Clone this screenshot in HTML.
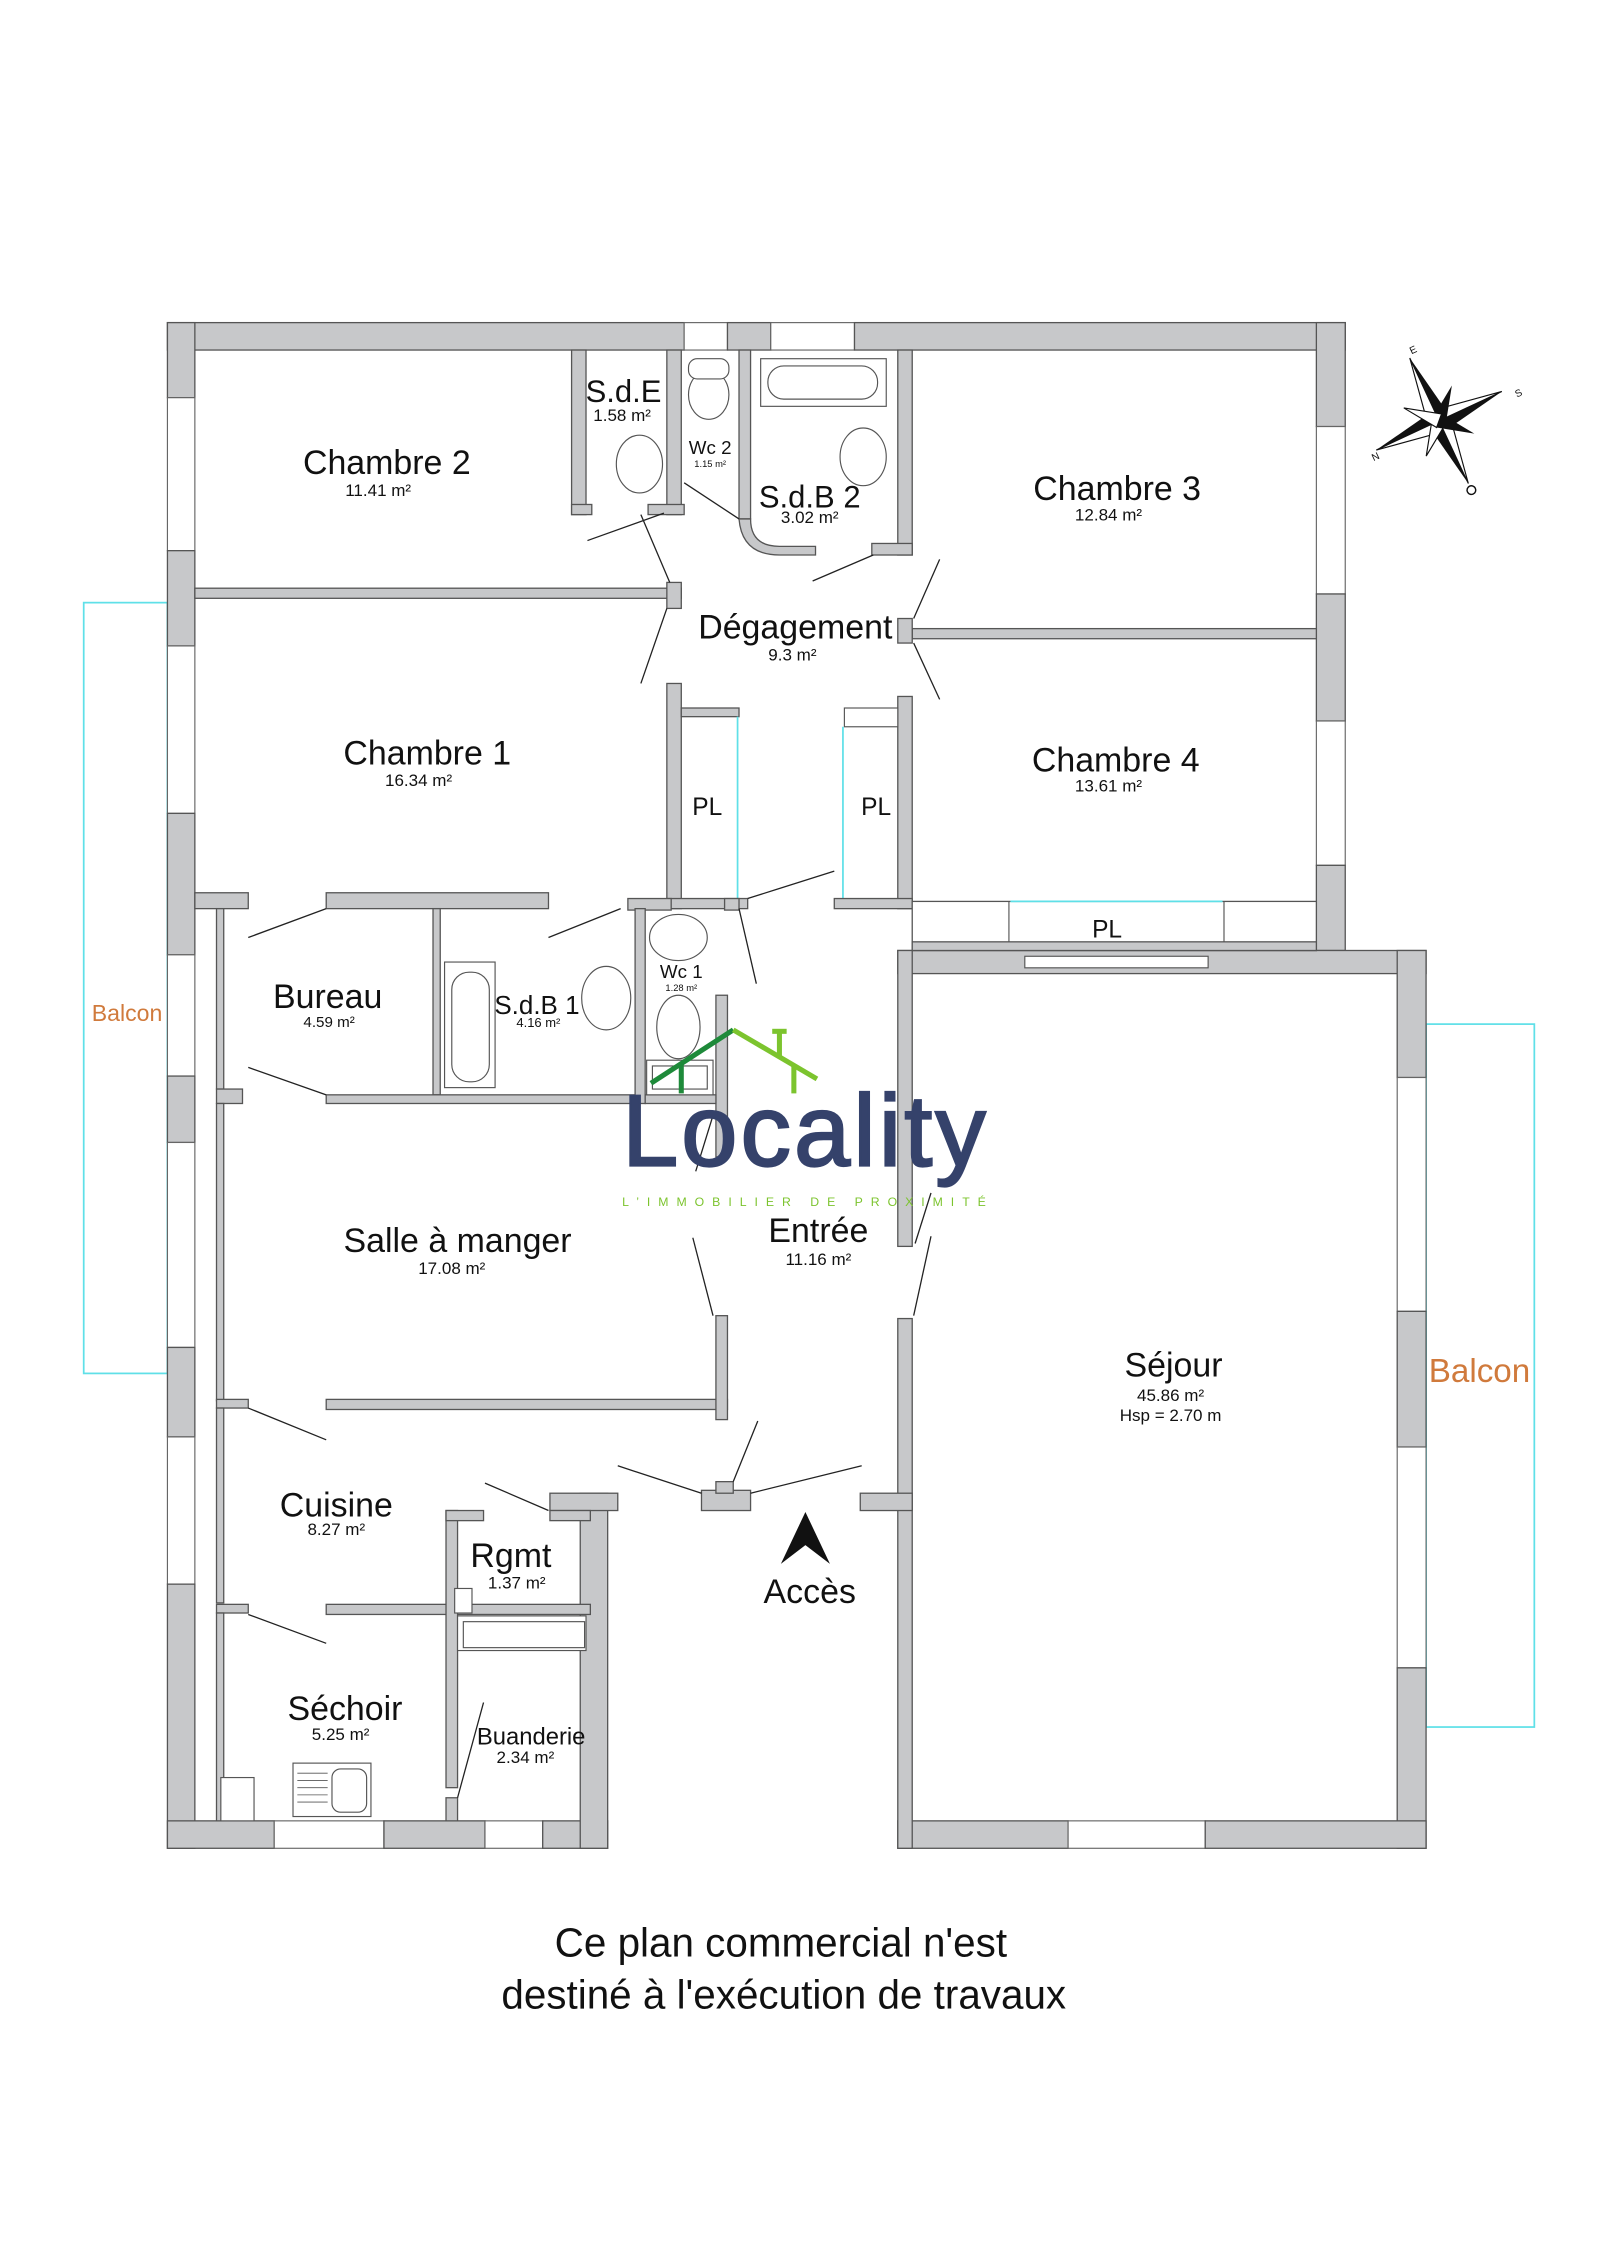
<!DOCTYPE html>
<html><head><meta charset="utf-8"><style>
html,body{margin:0;padding:0;background:#fff}
svg{display:block}
text{font-family:"Liberation Sans",sans-serif;fill:#111}
</style></head><body>
<svg width="1600" height="2264" viewBox="0 0 1108.5 1568.5" xmlns="http://www.w3.org/2000/svg">
<defs><style>
.w{fill:#c7c8ca;stroke:#555;stroke-width:0.9}
.win{fill:#fff;stroke:#666;stroke-width:0.8}
.d{stroke:#222;stroke-width:0.9;fill:none}
.fx{fill:#fff;stroke:#555;stroke-width:0.8}
.t{font-size:23.5px;text-anchor:middle}
.s{font-size:11.8px;text-anchor:middle}
</style></defs>
<g transform="translate(0,1.5)">
<rect x="58" y="416" width="58" height="534" fill="none" stroke="#5fe0e8" stroke-width="1.2"/>
<rect x="988" y="708" width="75" height="487" fill="none" stroke="#5fe0e8" stroke-width="1.2"/>
<text x="88" y="706" style="font-size:16px;fill:#d07a3c" text-anchor="middle">Balcon</text>
<text x="1025" y="956" style="font-size:23px;fill:#d07a3c" text-anchor="middle">Balcon</text>

<rect class="w" x="116" y="222" width="358" height="19"/>
<rect class="win" x="474" y="222" width="30" height="19"/>
<rect class="w" x="504" y="222" width="30" height="19"/>
<rect class="win" x="534" y="222" width="58" height="19"/>
<rect class="w" x="592" y="222" width="340" height="19"/>
<rect class="w" x="116" y="222" width="19" height="52"/>
<rect class="win" x="116" y="274" width="19" height="106"/>
<rect class="w" x="116" y="380" width="19" height="66"/>
<rect class="win" x="116" y="446" width="19" height="116"/>
<rect class="w" x="116" y="562" width="19" height="98"/>
<rect class="win" x="116" y="660" width="19" height="84"/>
<rect class="w" x="116" y="744" width="19" height="46"/>
<rect class="win" x="116" y="790" width="19" height="142"/>
<rect class="w" x="116" y="932" width="19" height="62"/>
<rect class="win" x="116" y="994" width="19" height="102"/>
<rect class="w" x="116" y="1096" width="19" height="183"/>
<rect class="w" x="116" y="1260" width="74" height="19"/>
<rect class="win" x="190" y="1260" width="76" height="19"/>
<rect class="w" x="266" y="1260" width="70" height="19"/>
<rect class="win" x="336" y="1260" width="40" height="19"/>
<rect class="w" x="376" y="1260" width="45" height="19"/>
<rect class="w" x="402" y="1033" width="19" height="246"/>
<rect class="w" x="381" y="1033" width="47" height="12"/>
<rect class="w" x="912" y="222" width="20" height="72"/>
<rect class="win" x="912" y="294" width="20" height="116"/>
<rect class="w" x="912" y="410" width="20" height="88"/>
<rect class="win" x="912" y="498" width="20" height="100"/>
<rect class="w" x="912" y="598" width="20" height="59"/>
<rect class="w" x="622" y="657" width="366" height="16"/>
<rect class="w" x="968" y="657" width="20" height="88"/>
<rect class="win" x="968" y="745" width="20" height="162"/>
<rect class="w" x="968" y="907" width="20" height="94"/>
<rect class="win" x="968" y="1001" width="20" height="153"/>
<rect class="w" x="968" y="1154" width="20" height="125"/>
<rect class="w" x="622" y="1260" width="118" height="19"/>
<rect class="win" x="740" y="1260" width="95" height="19"/>
<rect class="w" x="835" y="1260" width="153" height="19"/>
<rect class="w" x="622" y="657" width="10" height="205"/>
<rect class="w" x="622" y="912" width="10" height="367"/>
<rect class="w" x="596" y="1033" width="36" height="12"/>
<rect class="fx" x="710" y="661" width="127" height="8"/>

<rect class="w" x="135" y="406" width="337" height="7"/>
<rect class="w" x="462" y="402" width="10" height="18"/>
<rect class="w" x="396" y="241" width="10" height="114"/>
<rect class="w" x="396" y="348" width="14" height="7"/>
<rect class="w" x="462" y="241" width="10" height="114"/>
<rect class="w" x="449" y="348" width="25" height="7"/>
<rect class="w" x="512" y="241" width="8" height="117"/>
<path class="w" d="M512 358 Q514 383 540 383 L565 383 L565 377 L540 377 Q520 377 520 358Z"/>
<rect class="w" x="622" y="241" width="10" height="142"/>
<rect class="w" x="604" y="375" width="28" height="8"/>
<rect class="w" x="632" y="434" width="280" height="7"/>
<rect class="w" x="622" y="427" width="10" height="17"/>
<rect class="w" x="462" y="472" width="10" height="156"/>
<rect class="w" x="472" y="489" width="40" height="6"/>
<line x1="511" y1="495" x2="511" y2="621" stroke="#5fe0e8" stroke-width="1.2"/>
<rect class="w" x="622" y="481" width="10" height="147"/>
<rect class="fx" x="585" y="489" width="37" height="13"/>
<line x1="584" y1="502" x2="584" y2="621" stroke="#5fe0e8" stroke-width="1.2"/>
<rect class="w" x="462" y="621" width="56" height="7"/>
<rect class="w" x="578" y="621" width="54" height="7"/>
<rect class="w" x="502" y="621" width="10" height="8"/>
<rect class="w" x="632" y="623" width="280" height="34" style="fill:#fff"/>
<rect class="w" x="632" y="651" width="280" height="6"/>
<line x1="699" y1="623" x2="699" y2="651" stroke="#555" stroke-width="0.8"/>
<line x1="848" y1="623" x2="848" y2="651" stroke="#555" stroke-width="0.8"/>
<line x1="700" y1="623" x2="847" y2="623" stroke="#5fe0e8" stroke-width="1.2"/>
<rect class="w" x="135" y="617" width="37" height="11"/>
<rect class="w" x="226" y="617" width="154" height="11"/>
<rect class="w" x="435" y="621" width="30" height="8"/>
<rect class="w" x="150" y="628" width="5" height="125"/>
<rect class="w" x="150" y="753" width="18" height="10"/>
<rect class="w" x="300" y="628" width="5" height="129"/>
<rect class="w" x="226" y="757" width="214" height="6"/>
<rect class="w" x="440" y="628" width="7" height="135"/>
<rect class="w" x="496" y="688" width="8" height="112"/>
<rect class="w" x="447" y="757" width="49" height="6"/>
<rect class="w" x="150" y="763" width="5" height="206"/>
<rect class="w" x="150" y="968" width="22" height="6"/>
<rect class="w" x="226" y="968" width="278" height="7"/>
<rect class="w" x="496" y="910" width="8" height="72"/>
<rect class="w" x="150" y="974" width="5" height="135"/>
<rect class="w" x="150" y="1110" width="22" height="6"/>
<rect class="w" x="226" y="1110" width="183" height="7"/>
<rect class="w" x="150" y="1116" width="5" height="144"/>
<rect class="w" x="309" y="1045" width="8" height="192"/>
<rect class="w" x="309" y="1045" width="26" height="7"/>
<rect class="w" x="381" y="1045" width="28" height="7"/>
<rect class="w" x="309" y="1244" width="8" height="16"/>
<rect class="fx" x="317" y="1118" width="89" height="24"/>
<rect class="fx" x="321" y="1122" width="84" height="18"/>
<rect class="fx" x="315" y="1099" width="12" height="17"/>
<rect class="w" x="486" y="1031" width="34" height="14"/>
<rect class="w" x="496" y="1025" width="12" height="8"/>

<rect class="fx" x="527" y="247" width="87" height="33"/>
<rect class="fx" x="532" y="252" width="76" height="23" rx="11"/>
<ellipse class="fx" cx="491" cy="272" rx="14" ry="17"/>
<rect class="fx" x="477" y="247" width="28" height="14" rx="6"/>
<ellipse class="fx" cx="443" cy="320" rx="16" ry="20"/>
<ellipse class="fx" cx="598" cy="315" rx="16" ry="20"/>
<rect class="fx" x="308" y="665" width="35" height="87"/>
<rect class="fx" x="313" y="672" width="26" height="76" rx="12"/>
<ellipse class="fx" cx="420" cy="690" rx="17" ry="22"/>
<ellipse class="fx" cx="470" cy="648" rx="20" ry="16"/>
<ellipse class="fx" cx="470" cy="710" rx="15" ry="22"/>
<rect class="fx" x="448" y="733" width="46" height="24"/>
<rect class="fx" x="452" y="737" width="38" height="16"/>
<rect class="fx" x="153" y="1230" width="23" height="30"/>
<rect class="fx" x="203" y="1220" width="54" height="37"/>
<rect class="fx" x="230" y="1224" width="24" height="30" rx="6"/>
<g stroke="#555" stroke-width="0.6"><line x1="206" y1="1227" x2="227" y2="1227"/><line x1="206" y1="1232" x2="227" y2="1232"/><line x1="206" y1="1237" x2="227" y2="1237"/><line x1="206" y1="1242" x2="227" y2="1242"/><line x1="206" y1="1247" x2="227" y2="1247"/></g>

<g class="d">
<line x1="407" y1="373" x2="460" y2="354"/><line x1="444" y1="355" x2="464" y2="402"/>
<line x1="474" y1="333" x2="512" y2="358"/>
<line x1="563" y1="401" x2="605" y2="383"/>
<line x1="444" y1="472" x2="462" y2="420"/>
<line x1="633" y1="427" x2="651" y2="386"/><line x1="633" y1="444" x2="651" y2="483"/>
<line x1="512" y1="628" x2="524" y2="680"/><line x1="518" y1="621" x2="578" y2="602"/>
<line x1="380" y1="648" x2="430" y2="628"/>
<line x1="172" y1="648" x2="226" y2="628"/><line x1="172" y1="738" x2="226" y2="757"/>
<line x1="482" y1="810" x2="495" y2="768"/><line x1="480" y1="856" x2="494" y2="910"/>
<line x1="645" y1="825" x2="634" y2="860"/><line x1="645" y1="855" x2="633" y2="910"/>
<line x1="172" y1="974" x2="226" y2="996"/><line x1="172" y1="1117" x2="226" y2="1137"/>
<line x1="336" y1="1026" x2="380" y2="1045"/>
<line x1="428" y1="1014" x2="486" y2="1033"/><line x1="508" y1="1025" x2="525" y2="983"/><line x1="520" y1="1033" x2="597" y2="1014"/>
<line x1="317" y1="1244" x2="335" y2="1178"/>
</g>

<text class="t" x="268" y="327">Chambre 2</text><text class="s" x="262" y="342">11.41 m²</text>
<text class="t" x="432" y="277" style="font-size:21.5px">S.d.E</text><text class="s" x="431" y="290">1.58 m²</text>
<text x="492" y="313" style="font-size:13px" text-anchor="middle">Wc 2</text><text x="492" y="322" style="font-size:6.5px" text-anchor="middle">1.15 m²</text>
<text class="t" x="561" y="350" style="font-size:21.5px">S.d.B 2</text><text class="s" x="561" y="361">3.02 m²</text>
<text class="t" x="774" y="345">Chambre 3</text><text class="s" x="768" y="359">12.84 m²</text>
<text class="t" x="551" y="441">Dégagement</text><text class="s" x="549" y="456">9.3 m²</text>
<text class="t" x="296" y="528">Chambre 1</text><text class="s" x="290" y="543">16.34 m²</text>
<text class="t" x="773" y="533">Chambre 4</text><text class="s" x="768" y="547">13.61 m²</text>
<text class="t" x="490" y="563" style="font-size:17px">PL</text>
<text class="t" x="607" y="563" style="font-size:17px">PL</text>
<text class="t" x="767" y="648" style="font-size:17px">PL</text>
<text class="t" x="227" y="697">Bureau</text><text class="s" x="228" y="710" style="font-size:10.5px">4.59 m²</text>
<text class="t" x="372" y="701" style="font-size:18px">S.d.B 1</text><text class="s" x="373" y="710" style="font-size:9px">4.16 m²</text>
<text x="472" y="676" style="font-size:13px" text-anchor="middle">Wc 1</text><text x="472" y="685" style="font-size:6.5px" text-anchor="middle">1.28 m²</text>
<text class="t" x="317" y="866">Salle à manger</text><text class="s" x="313" y="881">17.08 m²</text>
<text class="t" x="567" y="859">Entrée</text><text class="s" x="567" y="875">11.16 m²</text>
<text class="t" x="813" y="952">Séjour</text><text class="s" x="811" y="969">45.86 m²</text><text class="s" x="811" y="983">Hsp = 2.70 m</text>
<text class="t" x="233" y="1049">Cuisine</text><text class="s" x="233" y="1062">8.27 m²</text>
<text class="t" x="354" y="1084">Rgmt</text><text class="s" x="358" y="1099">1.37 m²</text>
<text class="t" x="239" y="1190">Séchoir</text><text class="s" x="236" y="1204">5.25 m²</text>
<text x="368" y="1207" style="font-size:16.5px" text-anchor="middle">Buanderie</text><text class="s" x="364" y="1220">2.34 m²</text>
<text class="t" x="561" y="1109">Accès</text>
<path d="M558 1046 L541 1082 L558 1069 L575 1082 Z" fill="#111"/>

<g fill="none" stroke-width="3.5">
<polyline points="451,749 508,712" stroke="#1e8a3a"/><polyline points="508,712 566,746" stroke="#7cc42e"/>
<line x1="472" y1="735" x2="472" y2="756" stroke="#1e8a3a"/>
<line x1="540" y1="712" x2="540" y2="730" stroke="#7cc42e"/><line x1="535" y1="713" x2="545" y2="713" stroke="#7cc42e"/>
<line x1="550" y1="737" x2="550" y2="756" stroke="#7cc42e"/>
</g>
<text x="431" y="806" textLength="252" lengthAdjust="spacing" style="font-size:70px;fill:#35426b;stroke:#35426b;stroke-width:1.5">Locality</text>
<text x="431" y="834" textLength="252" lengthAdjust="spacing" style="font-size:8.5px;fill:#7cc42e">L’IMMOBILIER DE PROXIMITÉ</text>

<g transform="translate(997,290) rotate(-25)">
<path d="M0 -48 L7 -7 L0 0Z" fill="#111"/><path d="M0 -48 L-7 -7 L0 0Z" fill="#fff" stroke="#111" stroke-width="0.8"/>
<path d="M0 48 L-7 7 L0 0Z" fill="#111"/><path d="M0 48 L7 7 L0 0Z" fill="#fff" stroke="#111" stroke-width="0.8"/>
<path d="M-48 0 L-7 -7 L0 0Z" fill="#111"/><path d="M-48 0 L-7 7 L0 0Z" fill="#fff" stroke="#111" stroke-width="0.8"/>
<path d="M48 0 L7 7 L0 0Z" fill="#111"/><path d="M48 0 L7 -7 L0 0Z" fill="#fff" stroke="#111" stroke-width="0.8"/>
<g transform="rotate(45)">
<path d="M0 -26 L5 0 L-5 0Z" fill="#111"/><path d="M0 26 L5 0 L-5 0Z" fill="#fff" stroke="#111" stroke-width="0.8"/>
<path d="M-26 0 L0 5 L0 -5Z" fill="#fff" stroke="#111" stroke-width="0.8"/><path d="M26 0 L0 5 L0 -5Z" fill="#111"/>
</g>
<circle cx="0" cy="53" r="3" fill="#fff" stroke="#111"/>
</g>
<text x="980" y="243" style="font-size:7px" text-anchor="middle" transform="rotate(-25 980 243)">E</text>
<text x="1053" y="273" style="font-size:7px" text-anchor="middle" transform="rotate(-25 1053 273)">S</text>
<text x="954" y="317" style="font-size:7px" text-anchor="middle" transform="rotate(-25 954 317)">N</text>

<text x="541" y="1354" text-anchor="middle" style="font-size:28px">Ce plan commercial n'est</text>
<text x="543" y="1390" text-anchor="middle" style="font-size:28px">destiné à l'exécution de travaux</text>
</g>
</svg>
</body></html>
